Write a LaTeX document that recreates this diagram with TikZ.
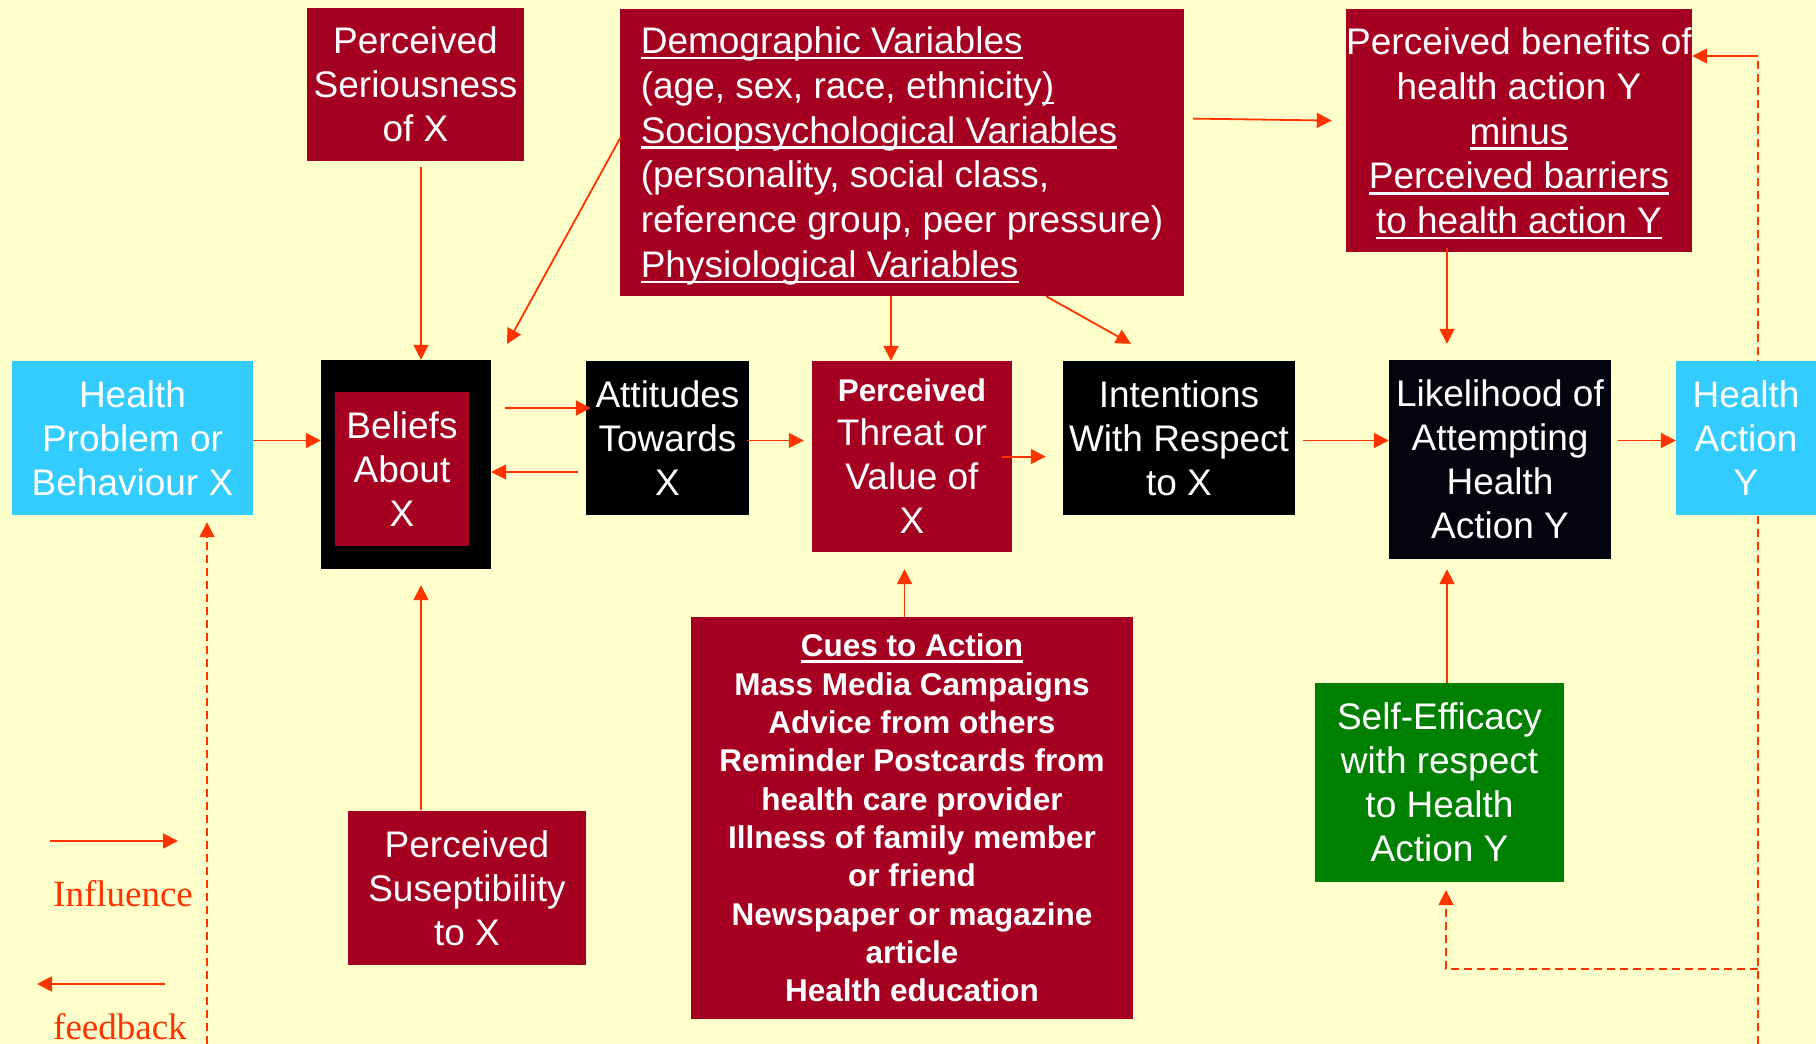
\documentclass[tikz,border=0pt]{standalone}
\usepackage{fontspec}
\setmainfont{Liberation Sans}
\newfontfamily\legendfont{Liberation Serif}
\usetikzlibrary{arrows.meta,calc}

% underline with a fixed depth below the baseline
\newsavebox{\undlbox}
\newcommand{\undl}[1]{\leavevmode\sbox{\undlbox}{#1}%
  \rlap{\rule[-5.6pt]{\wd\undlbox}{2.4pt}}\usebox{\undlbox}}

\definecolor{bgyellow}{RGB}{255,255,204}
\definecolor{boxred}{RGB}{165,0,33}
\definecolor{boxcyan}{RGB}{51,204,255}
\definecolor{boxgreen}{RGB}{0,128,0}
\definecolor{boxnavy}{RGB}{4,4,14}
\definecolor{arrowred}{RGB}{255,51,0}

\tikzset{
  box/.style={rectangle, inner sep=0pt, align=center, text=white,
    font=\fontsize{37pt}{44pt}\selectfont},
  widetext/.style={inner sep=0pt, text=white, font=\fontsize{37pt}{44.8pt}\selectfont},
  redbox/.style={box, fill=boxred},
  blackbox/.style={box, fill=black},
  navybox/.style={box, fill=boxnavy},
  cyanbox/.style={box, fill=boxcyan},
  greenbox/.style={box, fill=boxgreen},
  arr/.style={draw=arrowred, line width=1.8pt, -{Triangle[length=15pt,width=15pt]}},
  fbline/.style={draw=arrowred, line width=1.8pt, dash pattern=on 8pt off 5pt},
  fbarr/.style={fbline, -{Triangle[length=15pt,width=15pt]}},
  legendtext/.style={inner sep=0pt, text=arrowred, anchor=base west,
    font=\legendfont\fontsize{37pt}{44pt}\selectfont},
}

\begin{document}
\begin{tikzpicture}[x=1pt,y=-1pt]
\useasboundingbox (0,0) rectangle (1816,1044);
\fill[bgyellow] (0,0) rectangle (1816,1044);

% feedback paths (drawn first so the boxes cover them)
\coordinate (fbRight) at (1758,1044);
\coordinate (fbTop) at (1758,56);
\coordinate (fbCorner) at (1758,969);
\coordinate (fbTurn) at (1446,969);
\coordinate (fbLeft) at (207,1044);

% boxes
\node[redbox, minimum width=217pt, minimum height=153pt] (ser) at (415.5,84.5)
  {Perceived\\Seriousness\\of X};
\node[redbox, minimum width=564pt, minimum height=287pt] (demo) at (902,152.5) {};
\node[widetext, align=left] (demotext) at ($(demo)+(0,3.5)$)
  {\undl{Demographic Variables}\\
   (age, sex, race, ethnicity\undl{)}\\
   \undl{Sociopsychological Variables}\\
   (personality, social class,\\
   reference group, peer pressure)\\
   \undl{Physiological Variables}};
\node[redbox, minimum width=346pt, minimum height=243pt] (ben) at (1519,130.5) {};
\node[widetext, align=center] (bentext) at ($(ben)+(0,3)$)
  {Perceived benefits of\\health action Y\\\undl{minus}\\\undl{Perceived barriers}\\\undl{to health action Y}};

\node[cyanbox, minimum width=241pt, minimum height=154pt] (hp) at (132.5,438)
  {Health\\Problem or\\Behaviour X};
\node[blackbox, minimum width=170pt, minimum height=209pt] (bel) at (406,464.5) {};
\node[redbox, minimum width=134pt, minimum height=154pt] (belin) at (402,469)
  {Beliefs\\About\\X};
\node[blackbox, minimum width=163pt, minimum height=154pt] (att) at (667.5,438)
  {Attitudes\\Towards\\X};
\node[redbox, minimum width=200pt, minimum height=191pt] (thr) at (912,456.5)
  {{\fontsize{31.4pt}{44pt}\selectfont\bfseries Perceived}\\Threat or\\Value of\\X};
\node[blackbox, minimum width=232pt, minimum height=154pt] (int) at (1179,438)
  {Intentions\\With Respect\\to X};
\node[navybox, minimum width=222pt, minimum height=199pt] (lik) at (1500,459.5)
  {Likelihood of\\Attempting\\Health\\Action Y};

\node[redbox, minimum width=238pt, minimum height=154pt] (sus) at (467,888)
  {Perceived\\Suseptibility\\to X};
\node[redbox, minimum width=442pt, minimum height=402pt,
      font=\bfseries\fontsize{31.5pt}{38.3pt}\selectfont] (cues) at (912,818)
  {\undl{Cues to Action}\\Mass Media Campaigns\\Advice from others\\
   Reminder Postcards from\\health care provider\\Illness of family member\\
   or friend\\Newspaper or magazine\\article\\Health education};
\node[greenbox, minimum width=249pt, minimum height=199pt] (se) at (1439.5,782.5)
  {Self-Efficacy\\with respect\\to Health\\Action Y};

% feedback lines behind the Health Action box
\draw[fbline] (fbRight) -- (fbTop);
\draw[fbarr] (fbCorner) -- (fbTurn) -- ($(se.south -| fbTurn)+(0,8)$);
\draw[fbarr] (fbLeft) -- ($(hp.south -| fbLeft)+(0,7)$);

\node[cyanbox, minimum width=140pt, minimum height=154pt] (ha) at (1746,438)
  {Health\\Action\\Y};

\draw[arr] (fbTop) -- (ben.east |- fbTop);

% influences
\coordinate (belTR) at (507,344);
\draw[arr] ([yshift=-2.5pt]hp.east) -- ([yshift=-2.5pt]hp.east -| bel.west);
\draw[arr] ($(ser.south)+(5.5,6)$) -- ($(bel.north)+(15,0)$);
\draw[arr] ($(demo.west)+(1,-15.5)$) -- (belTR);
\draw[arr] ($(bel.east |- 0,408)+(14,0)$) -- ($(att.west |- 0,408)+(5,0)$);
\draw[arr] ($(att.west |- 0,472)+(-8,0)$) -- (bel.east |- 0,472);
\draw[arr] ($(att.east |- 0,440.5)+(-2,0)$) -- ($(thr.west |- 0,440.5)+(-8,0)$);
\draw[arr] (demo.south -| 891,0) -- (thr.north -| 891,0);
\draw[arr] ($(demo.south)+(144,0)$) -- ($(int.north)+(-48,-17)$);
\draw[arr] ($(thr.east |- 0,456.6)+(-10,0)$) -- ($(int.west |- 0,456.6)+(-17,0)$);
\draw[arr] ($(demo.east |- 0,118.6)+(9,0)$) -- ($(ben.west |- 0,120.6)+(-14,0)$);
\draw[arr] ($(int.east |- 0,440.5)+(8,0)$) -- (lik.west |- 0,440.5);
\draw[arr] ($(ben.south -| 1447,0)+(0,-4)$) -- ($(lik.north -| 1447,0)+(0,-16)$);
\draw[arr] ($(lik.east |- 0,440.5)+(7,0)$) -- (ha.west |- 0,440.5);
\draw[arr] (cues.north -| 904.5,0) -- ($(thr.south -| 904.5,0)+(0,17)$);
\draw[arr] ($(sus.north -| 421,0)+(0,-1)$) -- ($(bel.south -| 421,0)+(0,16)$);
\draw[arr] (se.north -| 1447,0) -- ($(lik.south -| 1447,0)+(0,10)$);

% legend
\coordinate (infA) at (50,841);
\coordinate (infB) at (178,841);
\coordinate (fbA) at (165,984);
\coordinate (fbB) at (37,984);
\draw[arr] (infA) -- (infB);
\node[legendtext] (lgInf) at (53,906) {Influence};
\draw[arr] (fbA) -- (fbB);
\node[legendtext] (lgFb) at (53,1039) {feedback};
\end{tikzpicture}
\end{document}
